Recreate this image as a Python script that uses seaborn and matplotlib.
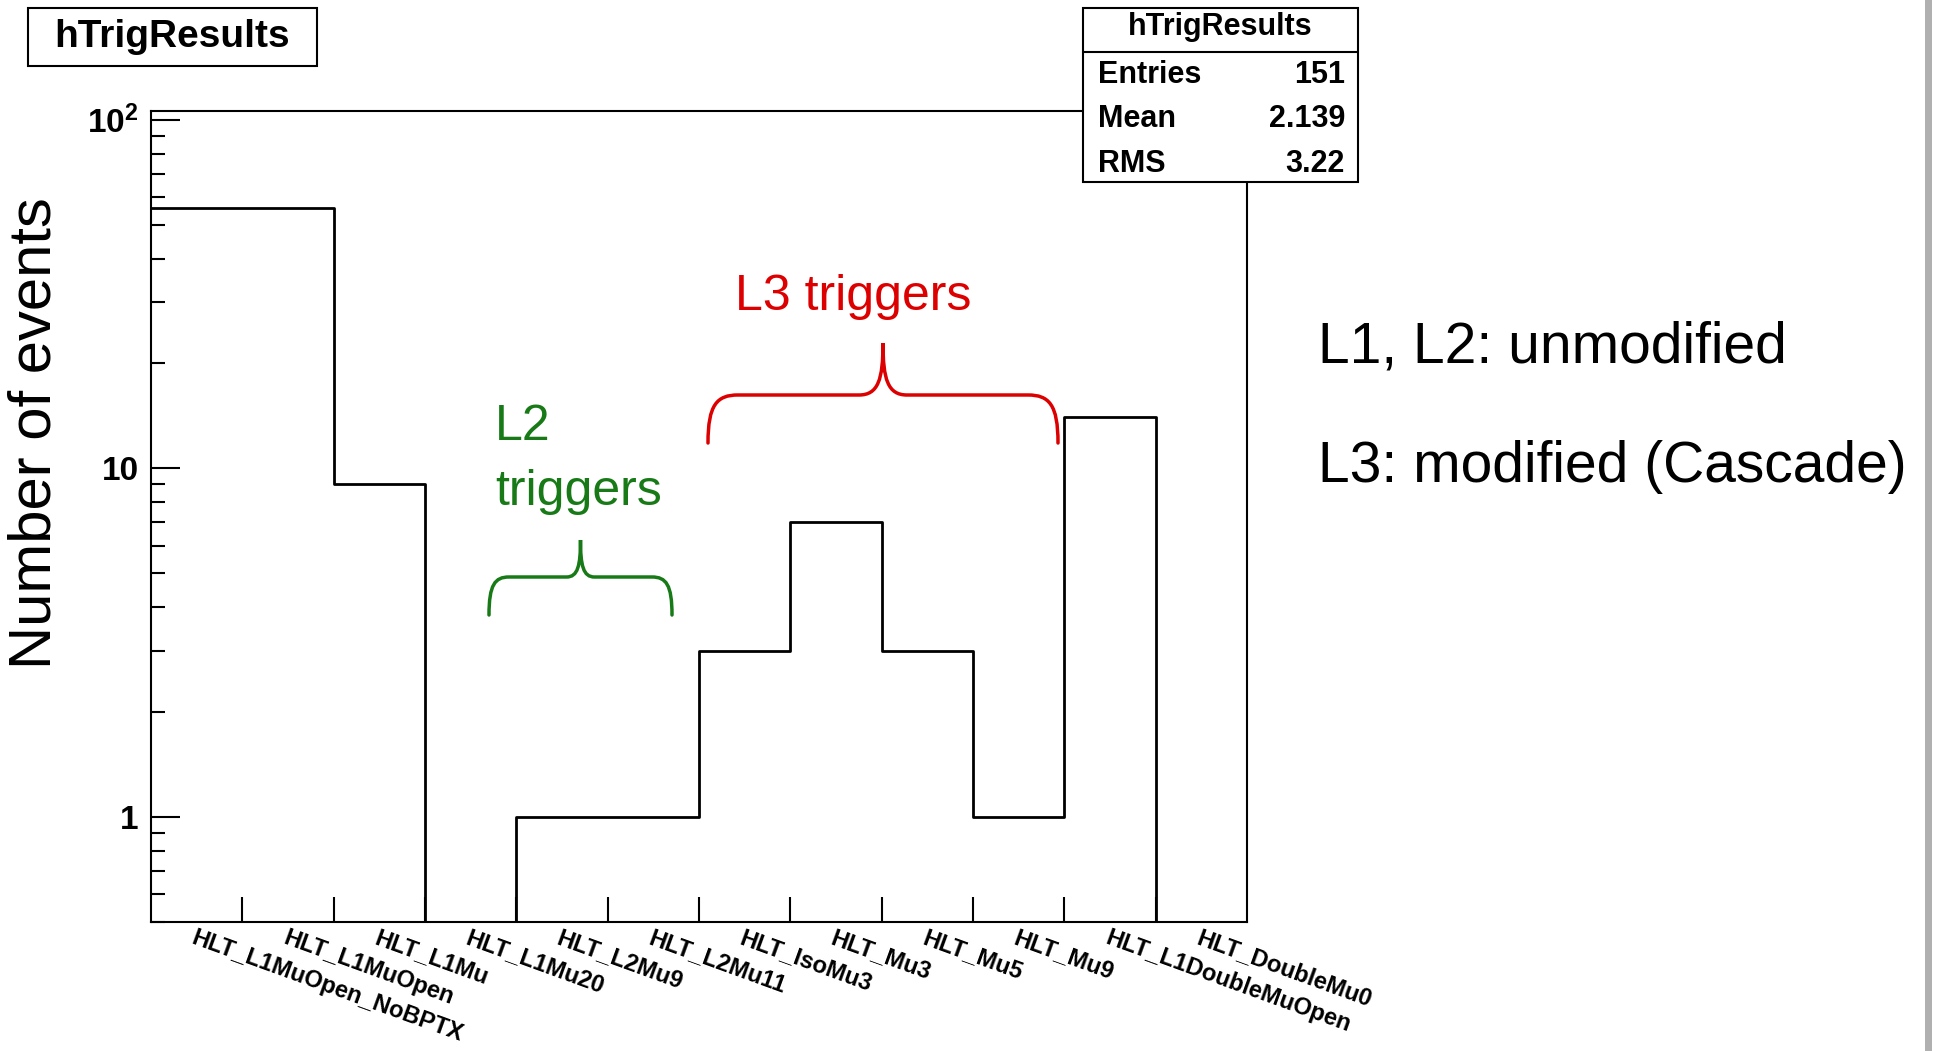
import numpy as np
import pandas as pd
import seaborn as sns
import matplotlib
matplotlib.use("Agg")
import matplotlib.pyplot as plt
import matplotlib.transforms as mtransforms
from matplotlib.patches import Rectangle, PathPatch
from matplotlib.path import Path
from matplotlib.lines import Line2D
from matplotlib.ticker import FixedLocator, LogLocator, NullFormatter

W, H = 1939, 1051

# histogram content, one bin per trigger path
trigger_names = ["HLT_L1MuOpen_NoBPTX", "HLT_L1MuOpen", "HLT_L1Mu", "HLT_L1Mu20",
                 "HLT_L2Mu9", "HLT_L2Mu11", "HLT_IsoMu3", "HLT_Mu3", "HLT_Mu5",
                 "HLT_Mu9", "HLT_L1DoubleMuOpen", "HLT_DoubleMu0"]
n_events = [56, 56, 9, 0, 1, 1, 3, 7, 3, 1, 14, 0]
y_ticks = [1, 10, 100]
y_tick_labels = ["1", "10", r"$\mathbf{10^{2}}$"]

nbins = len(trigger_names)
df = pd.DataFrame({"bin": np.arange(nbins), "events": n_events})

# stats box numbers (ROOT style, bins filled at their low edge)
w = np.array(n_events, dtype=float)
xb = np.arange(nbins)
entries = int(w.sum())
mean = (w * xb).sum() / w.sum()
rms = np.sqrt((w * xb**2).sum() / w.sum() - mean**2)

sns.set_theme(style="white")
plt.rcParams["font.family"] = ["Liberation Sans", "DejaVu Sans"]
plt.rcParams["text.color"] = "black"
plt.rcParams["xtick.color"] = "black"
plt.rcParams["ytick.color"] = "black"
plt.rcParams["xtick.labelcolor"] = "black"
plt.rcParams["ytick.labelcolor"] = "black"
plt.rcParams["mathtext.fontset"] = "custom"
plt.rcParams["mathtext.bf"] = "Liberation Sans:bold"
plt.rcParams["mathtext.rm"] = "Liberation Sans"

fig = plt.figure(figsize=(W / 100, H / 100), dpi=100)
fig.patch.set_facecolor("white")
# pixel coordinates measured from the top-left corner
pix = mtransforms.Affine2D().scale(1.0 / W, -1.0 / H).translate(0, 1) + fig.transFigure

ax = fig.add_axes([151 / W, 1 - 922 / H, (1247 - 151) / W, (922 - 111) / H])
sns.histplot(data=df, x="bin", weights="events", bins=nbins, binrange=(0, nbins),
             element="step", fill=False, color="black", linewidth=2, ax=ax)
ax.set_yscale("log")
ax.set_xlim(0, nbins)
ax.set_ylim(0.5, 106)
ax.set_xlabel("")
ax.set_ylabel("")

for s in ax.spines.values():
    s.set_color("black")
    s.set_linewidth(1.5)

ax.xaxis.set_major_locator(FixedLocator(np.arange(nbins) + 0.5))
ax.set_xticklabels(trigger_names, rotation=-20, ha="left", va="top",
                   rotation_mode="anchor", fontsize=17, fontweight="bold", color="black")
ax.xaxis.set_minor_locator(FixedLocator(np.arange(1, nbins)))
ax.tick_params(axis="x", which="major", bottom=True, length=0, pad=3)
ax.tick_params(axis="x", which="minor", bottom=True, direction="in", length=18,
               width=1.5, color="black")

ax.yaxis.set_major_locator(FixedLocator(y_ticks))
ax.set_yticklabels(y_tick_labels, fontsize=24, fontweight="bold", color="black")
ax.yaxis.set_minor_locator(LogLocator(base=10, subs=np.arange(2, 10)))
ax.yaxis.set_minor_formatter(NullFormatter())
ax.tick_params(axis="y", which="major", left=True, direction="in", length=21,
               width=1.5, color="black", pad=9)
ax.tick_params(axis="y", which="minor", left=True, direction="in", length=10,
               width=1.5, color="black")

fig.text(35, 433, "Number of events", transform=pix, rotation=90,
         ha="center", va="center", fontsize=43, color="black")

# title box
fig.add_artist(Rectangle((28, 8), 289, 58, transform=pix, facecolor="white",
                         edgecolor="black", lw=1.5))
fig.text(172, 47, "hTrigResults", transform=pix, ha="center", va="baseline",
         fontsize=28, fontweight="bold", color="black")

# stats box
fig.add_artist(Rectangle((1083, 8), 275, 174, transform=pix, facecolor="white",
                         edgecolor="black", lw=1.5))
fig.add_artist(Line2D([1083, 1358], [52, 52], transform=pix, color="black", lw=1.5))
fig.text(1220, 35, "hTrigResults", transform=pix, ha="center", va="baseline",
         fontsize=22, fontweight="bold", color="black")
rows = [("Entries", "%d" % entries), ("Mean", "%.4g" % mean), ("RMS", "%.4g" % rms)]
for (name, val), yb in zip(rows, [83, 127, 172]):
    fig.text(1098, yb, name, transform=pix, ha="left", va="baseline",
             fontsize=22, fontweight="bold", color="black")
    fig.text(1345, yb, val, transform=pix, ha="right", va="baseline",
             fontsize=22, fontweight="bold", color="black")


def brace(x0, x1, y_end, y_mid, y_tip, rx, tx, color):
    xm = (x0 + x1) / 2
    dy = y_end - y_mid
    dt = y_mid - y_tip
    verts = [(x0, y_end),
             (x0, y_mid + dy * 0.2), (x0 + rx * 0.3, y_mid), (x0 + rx, y_mid),
             (xm - tx, y_mid),
             (xm - tx * 0.2, y_mid), (xm, y_mid - dt * 0.3), (xm, y_tip),
             (xm, y_mid - dt * 0.3), (xm + tx * 0.2, y_mid), (xm + tx, y_mid),
             (x1 - rx, y_mid),
             (x1 - rx * 0.3, y_mid), (x1, y_mid + dy * 0.2), (x1, y_end)]
    codes = ([Path.MOVETO] + [Path.CURVE4] * 3 + [Path.LINETO] + [Path.CURVE4] * 6
             + [Path.LINETO] + [Path.CURVE4] * 3)
    fig.add_artist(PathPatch(Path(verts, codes), transform=pix, fill=False,
                             edgecolor=color, lw=2.5, capstyle="round"))


green = "#177a17"
red = "#dd0000"
brace(489, 672, 615, 577, 540, 20, 14, green)
brace(708, 1058, 443, 395, 343, 30, 24, red)
fig.text(495, 440, "L2", transform=pix, color=green, fontsize=36, va="baseline")
fig.text(495, 505, "triggers", transform=pix, color=green, fontsize=36, va="baseline")
fig.text(735, 310, "L3 triggers", transform=pix, color=red, fontsize=36, va="baseline")

fig.text(1318, 362, "L1, L2: unmodified", transform=pix, fontsize=41, va="baseline",
         color="black")
fig.text(1318, 482, "L3: modified (Cascade)", transform=pix, fontsize=41,
         va="baseline", color="black")

# grey window edge at the right of the screenshot
fig.add_artist(Rectangle((1925, 0), 7, H, transform=pix, facecolor="#b0b0b0",
                         edgecolor="none"))

fig.savefig("out.png", dpi=100)
